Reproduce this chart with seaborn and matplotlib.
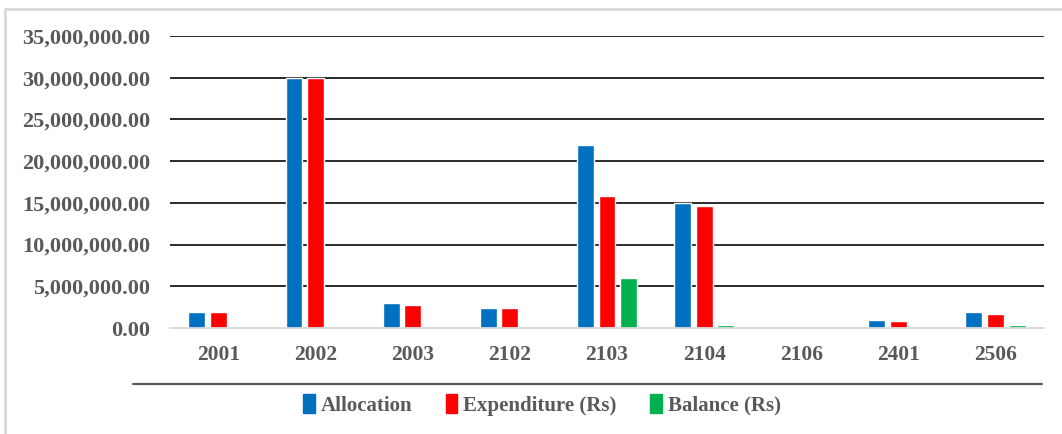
import numpy as np
import pandas as pd
import matplotlib
matplotlib.use("Agg")
import matplotlib.pyplot as plt
from matplotlib.lines import Line2D
from matplotlib.ticker import FuncFormatter
import seaborn as sns

# budget codes and values
codes = ["2001", "2002", "2003", "2102", "2103", "2104", "2106", "2401", "2506"]
allocation = [1950000, 30000000, 2950000, 2350000, 21900000, 15000000, 0, 960000, 1900000]
expenditure = [1950000, 30000000, 2800000, 2350000, 15800000, 14600000, 0, 780000, 1650000]
balance = [0, 0, 0, 0, 6000000, 300000, 0, 0, 300000]
series = ["Allocation", "Expenditure (Rs)", "Balance (Rs)"]
colors = ["#0070C0", "#FF0000", "#00B050"]
yticks = [0, 5000000, 10000000, 15000000, 20000000, 25000000, 30000000, 35000000]

df = pd.DataFrame({
    "code": codes * 3,
    "value": allocation + expenditure + balance,
    "series": [series[0]] * 9 + [series[1]] * 9 + [series[2]] * 9,
})

sns.set_theme(style="white")
plt.rcParams["font.family"] = ["Liberation Serif", "DejaVu Serif"]
plt.rcParams["font.weight"] = "bold"
txt = "#595959"

fig = plt.figure(figsize=(10.62, 4.34), dpi=100)
ax = fig.add_axes([170 / 1062, 106 / 434, (1044 - 170) / 1062, (328 - 36) / 434])

sns.barplot(data=df, x="code", y="value", hue="series", hue_order=series,
            palette=colors, saturation=1, width=0.67, gap=0.22, ax=ax, legend=False)

ax.set_ylim(0, 35000000)
ax.set_xlim(-0.5, 8.5)
ax.set_yticks(yticks)
ax.yaxis.set_major_formatter(FuncFormatter(lambda v, p: "{:,.2f}".format(v)))
for v in yticks[1:]:
    ax.axhline(v, color="#1a1a1a", lw=1.3, zorder=0)
ax.set_xlabel("")
ax.set_ylabel("")
for s in ["top", "left", "right"]:
    ax.spines[s].set_visible(False)
ax.spines["bottom"].set_color("#D9D9D9")
ax.spines["bottom"].set_linewidth(1.3)
ax.tick_params(axis="y", length=0, pad=14, labelsize=16, labelcolor=txt)
ax.tick_params(axis="x", length=0, pad=12, labelsize=15.5, labelcolor=txt)
for lab in ax.get_xticklabels() + ax.get_yticklabels():
    lab.set_fontweight("bold")

# line under category labels
fig.add_artist(Line2D([133 / 1062, 1042 / 1062], [1 - 384 / 434] * 2,
                      color=txt, lw=1.6, transform=fig.transFigure))
# chart frame (top and left visible)
fig.add_artist(Line2D([5 / 1062, 5 / 1062], [0, 1 - 9 / 434],
                      color="#D9D9D9", lw=2, transform=fig.transFigure))
fig.add_artist(Line2D([5 / 1062, 1], [1 - 9 / 434] * 2,
                      color="#D9D9D9", lw=2, transform=fig.transFigure))

handles = [plt.Rectangle((0, 0), 1, 1, color=c) for c in colors]
leg = fig.legend(handles, series, loc="center", bbox_to_anchor=(542 / 1062, 1 - 405 / 434),
                 ncol=3, frameon=False, handlelength=0.55, handleheight=1.0,
                 handletextpad=0.3, columnspacing=1.6,
                 prop={"family": "Liberation Serif", "weight": "bold", "size": 15})
for t in leg.get_texts():
    t.set_color(txt)

fig.savefig("out.png", dpi=100)
